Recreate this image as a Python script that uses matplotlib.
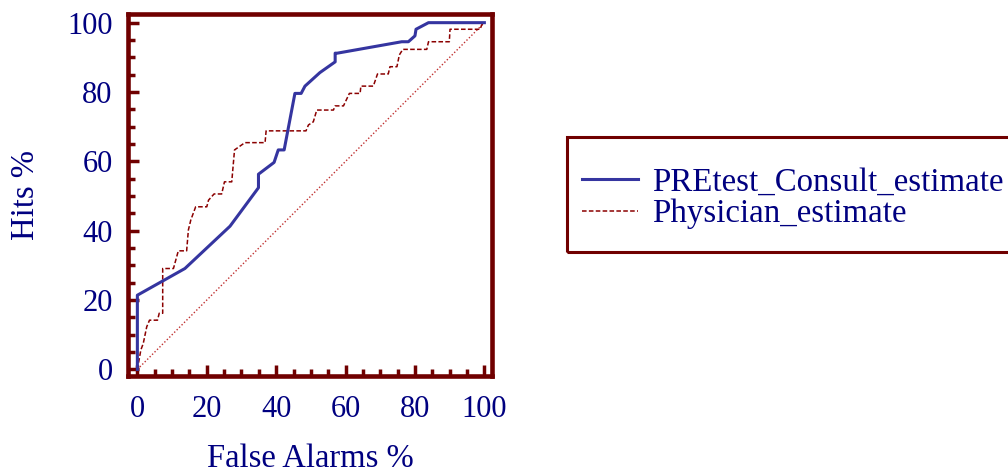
import matplotlib
matplotlib.use("Agg")
import matplotlib.pyplot as plt
from matplotlib.ticker import MultipleLocator
from matplotlib.patches import Rectangle

# PREtest_Consult_estimate ROC curve (False Alarms %, Hits %)
consult_fa = [0, 0, 13.7, 26.7, 34.9, 34.9, 39.4, 40.6, 42.3, 45.4, 47.2, 48.3,
              52.6, 57.0, 57.0, 57.6, 76.2, 78.1, 80.0, 80.3, 83.9, 100]
consult_hits = [0, 21.4, 29.1, 41.3, 52.4, 56.3, 59.7, 63.3, 63.3, 79.6, 79.6, 81.7,
                85.6, 88.7, 91.2, 91.2, 94.5, 94.5, 96.2, 98.1, 100, 100]

# Physician_estimate ROC curve
phys_fa = [0, 1.0, 1.7, 2.7, 3.5, 5.8, 6.3, 7.3, 7.3, 10.4, 11.8, 14.2, 14.7, 15.4,
           16.8, 20.0, 20.5, 22.1, 24.3, 25.1, 27.2, 28.0, 31.0, 36.8, 37.1, 48.6,
           49.3, 50.7, 51.7, 56.5, 57.0, 59.4, 61.1, 64.2, 64.4, 68.0, 69.2, 72.3,
           72.8, 74.8, 75.5, 76.5, 83.4, 83.9, 89.9, 90.1, 98.8, 99.2, 100]
phys_hits = [0, 5.6, 7.5, 12.3, 14.2, 14.2, 16.2, 16.2, 29.1, 29.1, 34.2, 34.2, 40.2,
             43.1, 46.9, 46.9, 48.8, 50.6, 50.6, 54.1, 54.1, 63.3, 65.4, 65.4, 68.8,
             68.8, 70.5, 71.4, 74.8, 74.8, 76.0, 76.0, 79.6, 79.6, 81.7, 81.7, 85.2,
             85.2, 87.3, 87.3, 90.7, 92.3, 92.3, 94.5, 94.5, 98.1, 98.1, 99.3, 100]

diag = [0, 100]

plt.rcParams['font.family'] = ['Liberation Serif', 'DejaVu Serif']
navy = '#000080'
maroon = '#700000'
W, H = 1008, 474

fig = plt.figure(figsize=(W/100, H/100), dpi=100)
ax = fig.add_axes([128/W, 1-376/H, (492-128)/W, (376-14)/H])

ax.plot(diag, diag, linestyle=(0, (1, 1.5)), color='#c03030', linewidth=1.0)
l2, = ax.plot(phys_fa, phys_hits, linestyle=(0, (3, 1.5)), color='#8b0000', linewidth=1.1,
              label='Physician_estimate')
l1, = ax.plot(consult_fa, consult_hits, color='#3535a0', linewidth=2.2,
              label='PREtest_Consult_estimate')

ax.set_xlim(-2.7, 102.2)
ax.set_ylim(-1.9, 102.5)
ax.xaxis.set_major_locator(MultipleLocator(20))
ax.xaxis.set_minor_locator(MultipleLocator(5))
ax.yaxis.set_major_locator(MultipleLocator(20))
ax.yaxis.set_minor_locator(MultipleLocator(5))
for s in ax.spines.values():
    s.set_color(maroon)
    s.set_linewidth(3.3)
ax.tick_params(which='major', direction='in', length=8, width=2.5, color=maroon,
               labelsize=22, labelcolor=navy)
ax.tick_params(which='minor', direction='in', length=5, width=2.5, color=maroon)
ax.tick_params(axis='x', which='major', pad=14)
ax.tick_params(axis='y', which='major', pad=11)

ax.set_xlabel('False Alarms %', fontsize=23.5, color=navy, labelpad=14)
ax.set_ylabel('Hits %', fontsize=23.5, color=navy, labelpad=19)

# legend frame
fig.patches.append(Rectangle((567/W, 1-252/H), (1015-567)/W, (252-137)/H,
                             transform=fig.transFigure, fill=False,
                             edgecolor=maroon, linewidth=2.2, clip_on=False))
leg = fig.legend(handles=[l1, l2], loc='upper left',
                 bbox_to_anchor=(582/W, 1-167/H), fontsize=23.7,
                 frameon=False, labelspacing=0.04, handlelength=1.7,
                 handletextpad=0.42, borderpad=0, borderaxespad=0,
                 labelcolor=navy)

fig.savefig('out.png', dpi=100)
